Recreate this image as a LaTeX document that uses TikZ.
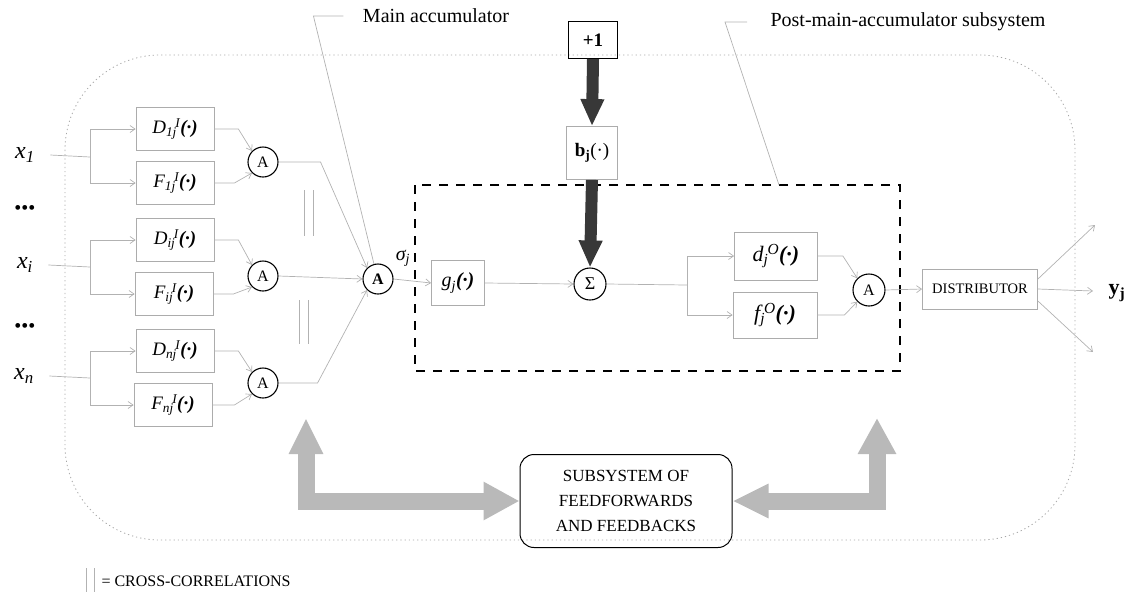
\documentclass[tikz,border=0pt]{standalone}
\usepackage{fontspec}
\setmainfont{Liberation Serif}
\usetikzlibrary{arrows.meta}
% function label: italic letter, subscript, raised superscript and a bold (.)
\newcommand{\fnlabel}[3]{\textit{#1\textsubscript{#2}\kern-1.5pt\textsuperscript{#3}}\textbf{\textit{(·)}}}
\newcommand{\fsz}[1]{\fontsize{#1}{#1}\selectfont}
\begin{document}
\begin{tikzpicture}[x=1pt,y=-1pt,
  wire/.style={draw=gray!60, line width=0.7pt},
  conn/.style={wire, -{Straight Barb[length=5pt,width=7pt]}},
  fbox/.style={draw=gray!65, line width=0.8pt, minimum width=78pt, minimum height=43pt, inner sep=0pt, font=\fsz{19}},
  accum/.style={circle, draw=black, line width=1.1pt, minimum size=30pt, inner sep=0pt, font=\fsz{16}},
  inlabel/.style={font=\fsz{24}},
  note/.style={font=\fsz{20}},
  ccl/.style={draw=gray!60, line width=0.7pt},
  heavy/.style={draw=black!78, line width=12pt, -{Triangle[length=27pt 0,width=22pt 0]}},
  broad/.style={draw=gray!55, line width=17pt, line join=miter,
    {Triangle[length=36pt 0,width=32pt 0]}-{Triangle[length=36pt 0,width=36pt 0]}},
  outline/.style={draw=gray!70, line width=0.8pt, dash pattern=on 1.2pt off 3pt},
  postbox/.style={draw=black, line width=1.2pt, dash pattern=on 9pt off 8pt}
]
\useasboundingbox (0,0) rectangle (1138,614);

% enclosing neuron outline and post-main-accumulator subsystem
\draw[outline, rounded corners=95pt] (65,55) rectangle (1075,540);
\draw[postbox] (415,185) rectangle (900,371);

% inputs
\node[inlabel] (x1) at (25,155) {\textit{x\textsubscript{1}}};
\node[inlabel] (xi) at (25,265) {\textit{x\textsubscript{i}}};
\node[inlabel] (xn) at (24,376) {\textit{x\textsubscript{n}}};
\node[font=\fsz{20}] (dots1) at (25,210) {•••};
\node[font=\fsz{20}] (dots2) at (25,328) {•••};

\coordinate (s1) at (90,157);
\coordinate (si) at (90,267);
\coordinate (sn) at (90,378);

% input functions
\node[fbox] (d1) at (175,129) {\fnlabel{D}{1j}{I}};
\node[fbox] (f1) at (175,183) {\fnlabel{F}{1j}{I}};
\node[fbox] (di) at (175,240) {\fnlabel{D}{ij}{I}};
\node[fbox] (fi) at (174,294) {\fnlabel{F}{ij}{I}};
\node[fbox] (dn) at (175,351) {\fnlabel{D}{nj}{I}};
\node[fbox] (fn) at (173,405) {\fnlabel{F}{nj}{I}};

% accumulators
\node[accum] (a1) at (263,162) {A};
\node[accum] (ai) at (263,276) {A};
\node[accum] (an) at (263,383) {A};
\node[accum, font=\bfseries\fsz{16}] (mA) at (378,279) {A};

\draw[wire] ([xshift=12pt]x1.east) -- (s1);
\draw[wire] ([xshift=12pt]xi.east) -- (si);
\draw[wire] ([xshift=12pt]xn.east) -- (sn);
\draw[conn] (s1) |- (d1.west);
\draw[conn] (s1) |- (f1.west);
\draw[conn] (si) |- (di.west);
\draw[conn] (si) |- (fi.west);
\draw[conn] (sn) |- (dn.west);
\draw[conn] (sn) |- (fn.west);

\draw[conn] (d1.east) -- ++(24,0) -- (a1.north west);
\draw[conn] (f1.east) -- ++(20,0) -- (a1.south west);
\draw[conn] (di.east) -- ++(24,0) -- (ai.north west);
\draw[conn] (fi.east) -- ++(20,0) -- (ai.south west);
\draw[conn] (dn.east) -- ++(24,0) -- (an.north west);
\draw[conn] (fn.east) -- ++(22,0) -- (an.south west);

\draw[conn] (a1.east) -- ++(42,0) -- (mA.north west);
\draw[conn] (ai.east) -- (mA.west);
\draw[conn] (an.east) -- ++(39,0) -- (mA.south west);

% cross-correlation marks
\draw[ccl] (304,190) -- (304,236) (313,190) -- (313,236);
\draw[ccl] (299,300) -- (299,344) (308,300) -- (308,344);

% annotations
\node[note] (mlab) at (436,16) {Main accumulator};
\draw[wire] ([xshift=-16pt]mlab.west) -- ++(-30,0) -- (mA.105);
\node[note, anchor=west] (plab) at (767,22) {Post-main-accumulator subsystem};
\coordinate (pend) at (779,185);
\draw[wire] ([xshift=-20pt]plab.west) -- ++(-22,0) -- (pend);

% post-main-accumulator chain
\node[font=\fsz{20}] (sig) at (403,258) {\textit{σ\textsubscript{j}}};
\node[fbox, minimum width=53pt, minimum height=45pt, font=\fsz{20}] (gj) at (458,283) {\textit{g\textsubscript{j}}\textbf{\textit{(·)}}};
\draw[conn] (mA.east) -- (gj.west);

\node[accum, minimum size=32pt, font=\fsz{18}] (sum) at (590,284) {Σ};
\draw[conn] (gj.east) -- (sum.west);

\node[draw=black, line width=1.1pt, minimum width=49pt, minimum height=37pt, font=\bfseries\fsz{19}] (one) at (593,40) {+1};
\node[fbox, minimum width=51pt, minimum height=53pt] (bj) at (592,153) {\textbf{b\textsubscript{j}}(·)};
\draw[heavy] (one.south) -- (bj.north);
\draw[heavy] (bj.south) -- (sum.north);

\node[fbox, minimum width=83pt, minimum height=48pt, font=\fsz{22}] (dj) at (776,256) {\textit{d\textsubscript{j}\kern-1pt\textsuperscript{O}}\textbf{\textit{(·)}}};
\node[fbox, minimum width=84pt, minimum height=46pt, font=\fsz{22}] (fj) at (775,315) {\textit{f\textsubscript{j}\kern-1pt\textsuperscript{O}}\textbf{\textit{(·)}}};
\coordinate (sp2) at (687,285);
\draw[wire] (sum.east) -- (sp2);
\draw[conn] (sp2) |- (dj.west);
\draw[conn] (sp2) |- (fj.west);

\node[accum, minimum size=32pt] (aO) at (869,290) {A};
\draw[conn] (dj.east) -- ++(25,0) -- (aO.north west);
\draw[conn] (fj.east) -- ++(27,0) -- (aO.south west);

\node[fbox, minimum width=115pt, minimum height=40pt, font=\fsz{14.5}] (dist) at (980,289) {DISTRIBUTOR};
\draw[conn] (aO.east) -- (dist.west);

\coordinate (o1) at (1095,225);
\coordinate (o2) at (1093,291);
\coordinate (o3) at (1093,352);
\draw[conn] ([yshift=10pt]dist.east) -- (o1);
\draw[conn] (dist.east) -- (o2);
\draw[conn] ([yshift=-12pt]dist.east) -- (o3);
\node[font=\fsz{22}] (yj) at (1117,293) {\textbf{y\textsubscript{j}}};

% feedforward / feedback subsystem
\node[draw=black, line width=1pt, rounded corners=14pt, minimum width=212pt, minimum height=93pt,
  align=center, font=\fontsize{17}{25}\selectfont] (ff) at (626,501)
  {SUBSYSTEM OF\\FEEDFORWARDS\\AND FEEDBACKS};
\coordinate (ltip) at (306,418);
\coordinate (rtip) at (877,418);
\draw[broad] (ltip) |- (ff.west);
\draw[broad] (ff.east) -| (rtip);

% legend
\draw[ccl] (86,568) -- (86,592) (94,568) -- (94,592);
\node[font=\fsz{16}, anchor=west] (leg) at (98,581) {= CROSS-CORRELATIONS};
\end{tikzpicture}
\end{document}
